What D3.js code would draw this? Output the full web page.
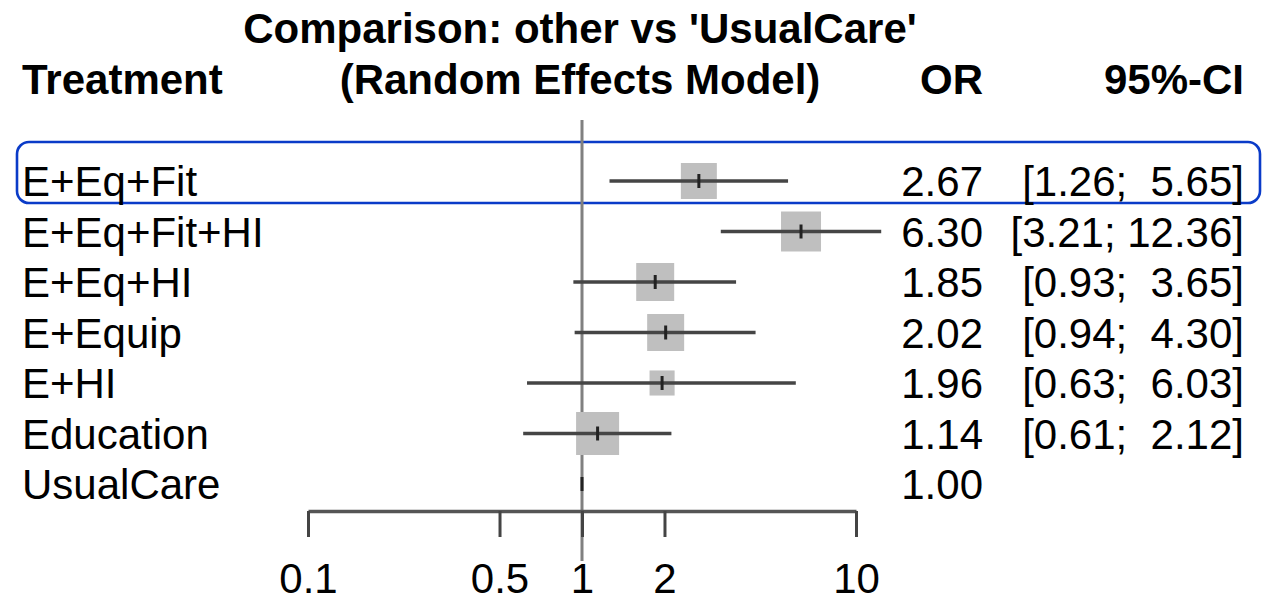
<!DOCTYPE html>
<html>
<head>
<meta charset="utf-8">
<script src="https://cdn.jsdelivr.net/npm/d3@7"></script>
<style>
  html, body { margin: 0; padding: 0; background: #fff; }
  svg { display: block; }
  text { font-family: "Liberation Sans", Arial, sans-serif; fill: #000; }
</style>
</head>
<body>
<svg id="chart" width="1262" height="603"></svg>
<script>
// ---- data ----
const treatments = ["E+Eq+Fit", "E+Eq+Fit+HI", "E+Eq+HI", "E+Equip", "E+HI", "Education", "UsualCare"];
const orValues   = [2.67, 6.30, 1.85, 2.02, 1.96, 1.14, 1.00];
const ciLower    = [1.26, 3.21, 0.93, 0.94, 0.63, 0.61, null];
const ciUpper    = [5.65, 12.36, 3.65, 4.30, 6.03, 2.12, null];
const weights    = [14.0, 17.3, 15.6, 14.8, 6.8, 20.0, 0];
const tickValues = [0.1, 0.5, 1, 2, 10];
const tickLabels = ["0.1", "0.5", "1", "2", "10"];
const titleLines = ["Comparison: other vs 'UsualCare'", "(Random Effects Model)"];
const highlighted = "E+Eq+Fit";

// ---- layout ----
const svg = d3.select("#chart");
const FS = 42;
const x = d3.scaleLog().domain([0.1, 10]).range([308, 856]);
const y = d3.scalePoint().domain(treatments).range([181, 484]);
const size = d3.scaleSqrt().domain([0, d3.max(weights)]).range([0, 43]);
const axisY = 511;

// highlight box
const hb = y(highlighted);
svg.append("rect")
  .attr("x", 17).attr("y", hb - 39)
  .attr("width", 1243).attr("height", 61)
  .attr("rx", 12).attr("ry", 12)
  .attr("fill", "none").attr("stroke", "#0a3bc8").attr("stroke-width", 2.6);

// titles
svg.append("text").attr("x", 580).attr("y", 43).attr("text-anchor", "middle")
  .attr("font-size", FS).attr("font-weight", "bold").text(titleLines[0]);
svg.append("text").attr("x", 580).attr("y", 94).attr("text-anchor", "middle")
  .attr("font-size", FS).attr("font-weight", "bold").text(titleLines[1]);
svg.append("text").attr("x", 22).attr("y", 94)
  .attr("font-size", FS).attr("font-weight", "bold").text("Treatment");
svg.append("text").attr("x", 983).attr("y", 94).attr("text-anchor", "end")
  .attr("font-size", FS).attr("font-weight", "bold").text("OR");
svg.append("text").attr("x", 1244).attr("y", 94).attr("text-anchor", "end")
  .attr("font-size", FS).attr("font-weight", "bold").text("95%-CI");

// reference line at 1
svg.append("line")
  .attr("x1", x(1)).attr("x2", x(1))
  .attr("y1", 120).attr("y2", axisY + 50)
  .attr("stroke", "#808080").attr("stroke-width", 3);

const rows = treatments.map((t, i) => ({
  t, or: orValues[i], lo: ciLower[i], hi: ciUpper[i], w: weights[i]
}));

// squares
svg.append("g").selectAll("rect").data(rows.filter(d => d.w > 0)).join("rect")
  .attr("x", d => x(d.or) - size(d.w) / 2)
  .attr("y", d => y(d.t) - size(d.w) / 2)
  .attr("width", d => size(d.w))
  .attr("height", d => size(d.w))
  .attr("fill", "#bfbfbf");

// CI lines
svg.append("g").selectAll("line").data(rows.filter(d => d.lo != null)).join("line")
  .attr("x1", d => x(d.lo)).attr("x2", d => x(d.hi))
  .attr("y1", d => y(d.t)).attr("y2", d => y(d.t))
  .attr("stroke", "#454545").attr("stroke-width", 3.5);

// point estimate marks
svg.append("g").selectAll("line").data(rows).join("line")
  .attr("x1", d => x(d.or)).attr("x2", d => x(d.or))
  .attr("y1", d => y(d.t) - 7).attr("y2", d => y(d.t) + 7)
  .attr("stroke", "#222").attr("stroke-width", 3);

// row labels
svg.append("g").selectAll("text").data(rows).join("text")
  .attr("x", 22).attr("y", d => y(d.t) + 15)
  .attr("font-size", FS).text(d => d.t);

// OR column
svg.append("g").selectAll("text").data(rows).join("text")
  .attr("x", 983).attr("y", d => y(d.t) + 15).attr("text-anchor", "end")
  .attr("font-size", FS).text(d => d.or.toFixed(2));

// CI column
svg.append("g").selectAll("text").data(rows.filter(d => d.lo != null)).join("text")
  .attr("x", 1244).attr("y", d => y(d.t) + 15).attr("text-anchor", "end")
  .attr("font-size", FS).style("white-space", "pre")
  .text(d => "[" + d.lo.toFixed(2) + "; " + d.hi.toFixed(2).padStart(5, " ") + "]");

// axis
const axis = d3.axisBottom(x)
  .tickValues(tickValues)
  .tickFormat((d, i) => tickLabels[i])
  .tickSize(26).tickSizeOuter(0);
const ag = svg.append("g").attr("transform", `translate(0,${axisY})`).call(axis);
ag.select(".domain").attr("stroke", "#555").attr("stroke-width", 3.5);
ag.selectAll(".tick line").attr("stroke", "#444").attr("stroke-width", 3);
ag.selectAll(".tick text")
  .attr("y", 52).attr("dy", "0.71em")
  .attr("font-size", FS)
  .attr("font-family", "Liberation Sans, Arial, sans-serif")
  .attr("fill", "#000");
</script>
</body>
</html>
